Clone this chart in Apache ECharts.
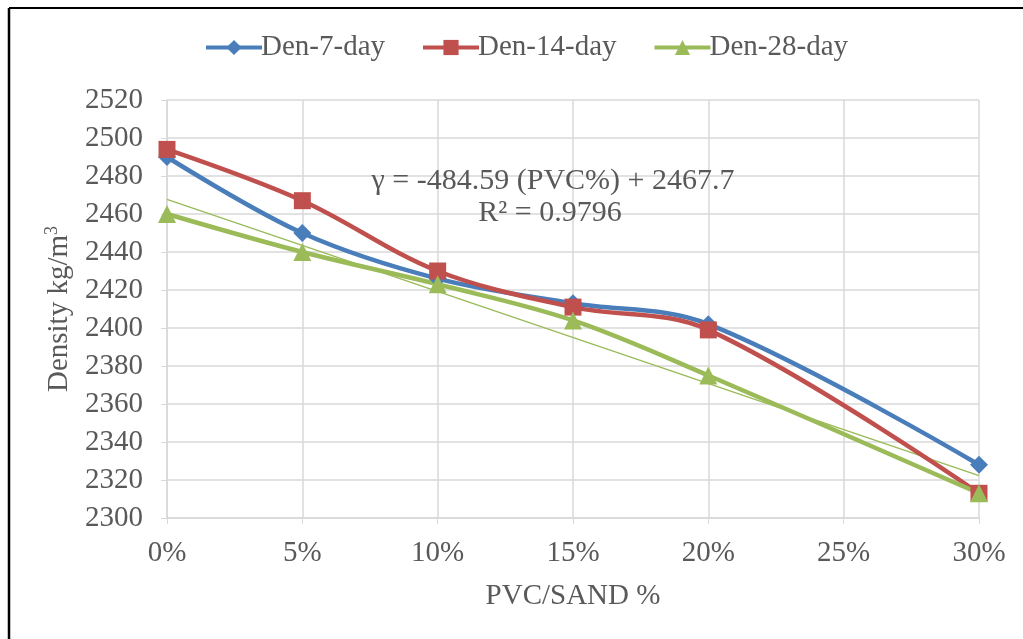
<!DOCTYPE html>
<html>
<head>
<meta charset="utf-8">
<script src="https://cdn.jsdelivr.net/npm/echarts@6/dist/echarts.min.js"></script>
<style>
html,body{margin:0;padding:0;background:#fff;}
#c{width:1023px;height:639px;}
</style>
</head>
<body>
<div id="c"></div>
<script>
const xValues = [0, 0.05, 0.10, 0.15, 0.20, 0.30];
const den7 = [2490, 2450, 2426, 2413, 2402, 2328];
const den14 = [2494, 2467, 2430, 2411, 2399, 2313];
const den28 = [2460, 2440, 2423, 2404, 2375, 2313];
const trendX = [0, 0.30];
const trendY = [2467.7, 2322.3];
const seriesNames = ['Den-7-day', 'Den-14-day', 'Den-28-day'];
const eqText = 'γ = -484.59 (PVC%) + 2467.7';
const r2Text = 'R² = 0.9796';

const pair = (xs, ys) => xs.map((x, i) => [x, ys[i]]);
const font = 'Liberation Serif';
const txt = '#595959';
const fs = 29;

const chart = echarts.init(document.getElementById('c'));
const mk = (name, data, color, symbol, size) => ({
  name, type: 'line', data: pair(xValues, data), smooth: 0.35,
  symbol, symbolSize: size,
  lineStyle: { color, width: 4.5 },
  itemStyle: { color },
  z: 3
});
chart.setOption({
  animation: false,
  backgroundColor: '#fff',
  grid: { left: 167, right: 44, top: 100, bottom: 121 },
  legend: {
    top: 28, left: 199,
    itemWidth: 56, itemHeight: 19, itemGap: 36,
    lineStyle: { width: 4 },
    textStyle: { fontFamily: font, fontSize: fs, color: txt, padding: [0,0,0,-6] },
    data: seriesNames
  },
  xAxis: {
    type: 'value', min: 0, max: 0.3, interval: 0.05,
    name: 'PVC/SAND %', nameLocation: 'middle', nameGap: 64,
    nameTextStyle: { fontFamily: font, fontSize: fs, color: txt },
    axisLine: { lineStyle: { color: '#d9d9d9', width: 1.5 } },
    axisTick: { show: true, length: 6, lineStyle: { color: '#d9d9d9' } },
    axisLabel: { fontFamily: font, fontSize: fs, color: txt, margin: 21,
      formatter: v => Math.round(v * 100) + '%' },
    splitLine: { show: true, lineStyle: { color: '#d9d9d9', width: 1.5 } }
  },
  yAxis: {
    type: 'value', min: 2300, max: 2520, interval: 20,
    name: 'Density kg/m{sup|3}', nameLocation: 'middle', nameGap: 88, nameRotate: 90,
    nameTextStyle: { fontFamily: font, fontSize: fs, color: txt,
      rich: { sup: { fontFamily: font, fontSize: 18, color: txt, verticalAlign: 'bottom', padding: [0,0,14,0] } } },
    axisLine: { show: true, lineStyle: { color: '#d9d9d9', width: 1.5 } },
    axisTick: { show: true, length: 6, lineStyle: { color: '#d9d9d9' } },
    axisLabel: { fontFamily: font, fontSize: fs, color: txt, margin: 24,
      formatter: v => String(v) },
    splitLine: { show: true, lineStyle: { color: '#d9d9d9', width: 1.5 } }
  },
  graphic: [
    { type: 'line', shape: { x1: 9, y1: 8, x2: 1023, y2: 8 }, style: { stroke: '#000', lineWidth: 2 } },
    { type: 'line', shape: { x1: 9, y1: 8, x2: 9, y2: 639 }, style: { stroke: '#000', lineWidth: 2.5 } },
    { type: 'text', x: 553, y: 181, z: 10, style: { text: eqText, font: '30px "Liberation Serif"', fill: txt, align: 'center', verticalAlign: 'middle' } },
    { type: 'text', x: 550, y: 213, z: 10, style: { text: r2Text, font: '30px "Liberation Serif"', fill: txt, align: 'center', verticalAlign: 'middle' } }
  ],
  series: [
    mk(seriesNames[0], den7, '#4a7ebb', 'diamond', 18),
    mk(seriesNames[1], den14, '#c0504d', 'rect', 17),
    mk(seriesNames[2], den28, '#9bbb59', 'triangle', 18),
    { type: 'line', data: pair(trendX, trendY), symbol: 'none',
      lineStyle: { color: '#9bbb59', width: 1.5 }, z: 2, silent: true }
  ]
});
</script>
</body>
</html>
